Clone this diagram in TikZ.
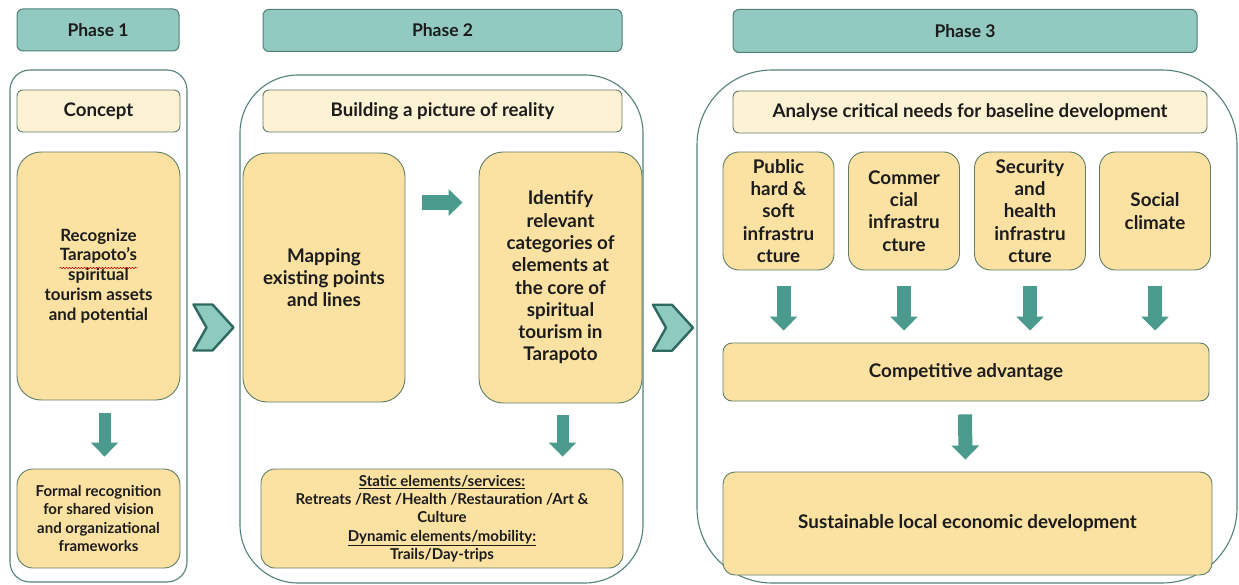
\documentclass[tikz,border=0pt]{standalone}
\usepackage{fontspec}
\setmainfont{Lato}
\usetikzlibrary{arrows.meta,calc,decorations.pathmorphing}

\definecolor{headfill}{HTML}{92C9C1}
\definecolor{headline}{HTML}{4F7F77}
\definecolor{frameline}{HTML}{52807A}
\definecolor{creamfill}{HTML}{FDF2D4}
\definecolor{goldfill}{HTML}{FBE2A2}
\definecolor{boxline}{HTML}{5F7D66}
\definecolor{arrowfill}{HTML}{4A9A8D}
\definecolor{chevfill}{HTML}{8FCAC0}
\definecolor{chevline}{HTML}{2F6A60}
\definecolor{textc}{HTML}{1C1C1C}

\tikzset{
  phasehead/.style={draw=headline, fill=headfill, line width=1pt, rounded corners=6pt,
    text=textc, font=\bfseries\fontsize{17.5}{20}\selectfont},
  phaseframe/.style={draw=frameline, line width=1.1pt},
  creambox/.style={draw=boxline, fill=creamfill, line width=0.9pt, rounded corners=6pt,
    text=textc, font=\bfseries\fontsize{18.7}{21}\selectfont},
  goldbox/.style={draw=boxline, fill=goldfill, line width=0.9pt, rounded corners=16pt,
    text=textc, align=center, font=\bfseries\fontsize{18.8}{22.3}\selectfont},
  smalltext/.style={font=\bfseries\fontsize{15}{18.3}\selectfont},
  midtext/.style={font=\bfseries\fontsize{16.9}{19.9}\selectfont},
  downarrow/.style={draw=arrowfill, line width=12pt, -{Triangle[width=27pt,length=14pt]}},
  chev/.style={draw=chevline, fill=chevfill, line width=2.4pt, line join=round},
  chevron/.pic={\draw[chev] (-20,-23) -- (-1,-23) -- (20,0) -- (-1,23) -- (-20,23) -- (-7,0) -- cycle;},
  squiggle/.style={draw=red!75!black, line width=0.5pt, decorate,
    decoration={snake, amplitude=0.7pt, segment length=3pt}}
}

\begin{document}
\begin{tikzpicture}[x=1pt, y=-1pt]
\useasboundingbox (0,0) rectangle (1239,585);

% phase headers
\node[phasehead, minimum width=162pt, minimum height=42pt] (h1) at (98,30) {Phase 1};
\node[phasehead, minimum width=359pt, minimum height=42pt] (h2) at (442.5,30.5) {Phase 2};
\node[phasehead, minimum width=464pt, minimum height=43pt] (h3) at (965,31) {Phase 3};

% phase frames
\node[phaseframe, rounded corners=20pt, minimum width=177pt, minimum height=512pt] (p1) at (98.5,326) {};
\node[phaseframe, rounded corners=58pt, minimum width=403pt, minimum height=508pt] (p2) at (441.5,329) {};
\node[phaseframe, rounded corners=75pt, minimum width=540pt, minimum height=513pt] (p3) at (967,326.5) {};

% ---- phase 1
\node[creambox, minimum width=163pt, minimum height=42pt] (c1) at (98.5,111) {Concept};
\node[goldbox, rounded corners=24pt, midtext, minimum width=163pt, minimum height=248pt] (g1) at (98.5,276)
  {Recognize\\Tarapoto's\\spiritual\\tourism assets\\and potential};
\draw[squiggle] ($(g1.center)+(-39,-8)$) -- ($(g1.center)+(39,-8)$);
\node[goldbox, smalltext, minimum width=163pt, minimum height=99pt] (g2) at (98.5,518.5)
  {Formal recognition\\for shared vision\\and organizational\\frameworks};
\draw[downarrow] ($(g1.south)+(6,13)$) -- ($(g2.north)+(6,-12)$);

% ---- phase 2
\node[creambox, minimum width=359pt, minimum height=42pt] (c2) at (442.5,111) {Building a picture of reality};
\node[goldbox, rounded corners=24pt, minimum width=162pt, minimum height=249pt] (g3) at (324,277.5)
  {Mapping\\existing points\\and lines};
\node[goldbox, rounded corners=24pt, minimum width=163pt, minimum height=251pt] (g4) at (560.5,277.5)
  {Identify\\relevant\\categories of\\elements at\\the core of\\spiritual\\tourism in\\Tarapoto};
\node[goldbox, smalltext, rounded corners=14pt, minimum width=362pt, minimum height=99pt] (g5) at (442,518.5)
  {\underline{Static elements/services:}\\Retreats /Rest /Health /Restauration /Art \&\\Culture\\
   \underline{Dynamic elements/mobility:}\\Trails/Day-trips};
\coordinate (ra) at ($(g3.north east)+(17,50)$);
\draw[draw=arrowfill, line width=15pt, -{Triangle[width=26pt,length=14pt]}]
  (ra) -- ($(ra -| g4.west)+(-16,0)$);
\draw[downarrow] ($(g4.south)+(2,12)$) -- ($(g4.south |- g5.north)+(2,-12)$);

% ---- phase 3
\node[creambox, minimum width=474pt, minimum height=42pt] (c3) at (970,112) {Analyse critical needs for baseline development};
\node[goldbox, minimum width=111pt, minimum height=118pt] (g6) at (778.5,211)
  {Public\\hard \&\\soft\\infrastru\\cture};
\node[goldbox, minimum width=111pt, minimum height=118pt] (g7) at (904,211)
  {Commer\\cial\\infrastru\\cture};
\node[goldbox, minimum width=111pt, minimum height=118pt] (g8) at (1030,211)
  {Security\\and\\health\\infrastru\\cture};
\node[goldbox, minimum width=111pt, minimum height=118pt] (g9) at (1155,211)
  {Social\\climate};
\node[goldbox, rounded corners=9pt, minimum width=486pt, minimum height=58pt] (g10) at (966,372)
  {Competitive advantage};
\node[goldbox, rounded corners=12pt, minimum width=489pt, minimum height=103pt] (g11) at (967.5,523.5)
  {Sustainable local economic development};
\draw[downarrow, line width=14pt] ($(g6.south)+(5,16)$) -- ($(g6.south |- g10.north)+(5,-12)$);
\foreach \b in {g7,g8,g9}
  \draw[downarrow, line width=14pt] ($(\b.south)+(0,16)$) -- ($(\b.south |- g10.north)+(0,-12)$);
\draw[downarrow, line width=14pt] ($(g10.south)+(-1,13)$) -- ($(g11.north)+(-2,-12)$);

% chevrons between the phases
\coordinate (v1) at ($(p1.east)!0.5!(p2.west)$);
\coordinate (v2) at ($(p2.east)!0.5!(p3.west)+(3,0)$);
\pic at (v1) {chevron};
\pic at (v2) {chevron};
\end{tikzpicture}
\end{document}
